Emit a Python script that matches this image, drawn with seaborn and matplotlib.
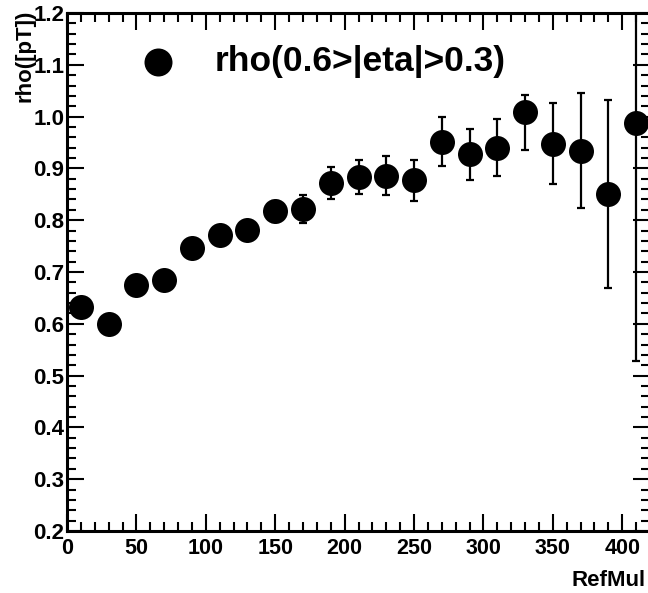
import numpy as np
import pandas as pd
import matplotlib
matplotlib.use("Agg")
import matplotlib.pyplot as plt
from matplotlib.ticker import MultipleLocator, FormatStrFormatter
import seaborn as sns

# ---- data ----
refmult = [10, 30, 50, 70, 90, 110, 130, 150, 170, 190, 210,
           230, 250, 270, 290, 310, 330, 350, 370, 390, 410]
rho = [0.632, 0.600, 0.674, 0.684, 0.746, 0.771, 0.782, 0.817, 0.822, 0.871, 0.883,
       0.885, 0.877, 0.951, 0.928, 0.940, 1.008, 0.947, 0.934, 0.851, 0.987]
err_low = [0.008, 0.009, 0.010, 0.011, 0.012, 0.014, 0.016, 0.020, 0.027, 0.031, 0.033,
           0.036, 0.040, 0.047, 0.051, 0.055, 0.072, 0.078, 0.110, 0.181, 0.458]
err_high = [0.008, 0.009, 0.010, 0.011, 0.012, 0.014, 0.016, 0.020, 0.027, 0.031, 0.033,
            0.038, 0.040, 0.048, 0.049, 0.055, 0.034, 0.079, 0.111, 0.182, 0.458]
series_label = "rho(0.6>|eta|>0.3)"
x_title = "RefMul"
y_title = "rho([pT])"

df = pd.DataFrame({"RefMult": refmult, "rho": rho})

sns.set_theme(style="ticks")
plt.rcParams["font.family"] = ["Liberation Sans", "DejaVu Sans"]
plt.rcParams["font.weight"] = "bold"
plt.rcParams["text.color"] = "black"
plt.rcParams["xtick.labelcolor"] = "black"
plt.rcParams["ytick.labelcolor"] = "black"
plt.rcParams["axes.labelcolor"] = "black"

W, H = 648, 593
fig = plt.figure(figsize=(W / 100, H / 100), dpi=100)
ax_left, ax_right = 67, 650
ax_top, ax_bottom = 13, 531
ax = fig.add_axes([ax_left / W, (H - ax_bottom) / H,
                   (ax_right - ax_left) / W, (ax_bottom - ax_top) / H])

ax.errorbar(df["RefMult"], df["rho"], yerr=[err_low, err_high], fmt="none",
            ecolor="black", elinewidth=1.6, capsize=3.0, capthick=1.6, zorder=2)
sns.scatterplot(data=df, x="RefMult", y="rho", ax=ax, color="black", s=18 ** 2,
                edgecolor="black", linewidth=0, marker="o", label=series_label,
                zorder=3, clip_on=False)

ax.set_xlim(0, 420)
ax.set_ylim(0.2, 1.2)
ax.xaxis.set_major_locator(MultipleLocator(50))
ax.xaxis.set_minor_locator(MultipleLocator(10))
ax.yaxis.set_major_locator(MultipleLocator(0.1))
ax.yaxis.set_minor_locator(MultipleLocator(0.02))
ax.yaxis.set_major_formatter(FormatStrFormatter("%.1f"))
ax.xaxis.set_major_formatter(FormatStrFormatter("%d"))

for s in ax.spines.values():
    s.set_linewidth(2.2)
    s.set_color("black")
ax.tick_params(which="both", direction="in", top=True, right=True,
               color="black", labelcolor="black", width=1.5)
ax.tick_params(which="major", length=12.2)
ax.tick_params(which="minor", length=6.5)
ax.tick_params(axis="x", which="major", labelsize=15.5, pad=5)
ax.tick_params(axis="y", which="major", labelsize=16, pad=2)
for lab in ax.get_xticklabels() + ax.get_yticklabels():
    lab.set_fontweight("bold")

ax.set_xlabel("")
ax.set_ylabel("")
fig.text(646 / W, 1 - 580 / H, x_title, ha="right", va="center",
         fontsize=16, fontweight="bold", color="black")
fig.text(25 / W, 1 - 10 / H, y_title, ha="center", va="top", rotation=90,
         fontsize=16, fontweight="bold", color="black")

leg = ax.legend(loc="center left", bbox_to_anchor=((140 - ax_left) / (ax_right - ax_left),
                                                   (ax_bottom - 62) / (ax_bottom - ax_top)),
                frameon=False, fontsize=25.5, markerscale=1.12, handlelength=1.0,
                handletextpad=1.1, borderpad=0, borderaxespad=0,
                prop={"weight": "bold", "size": 25.5}, labelcolor="black")

fig.savefig("out.png", dpi=100)
